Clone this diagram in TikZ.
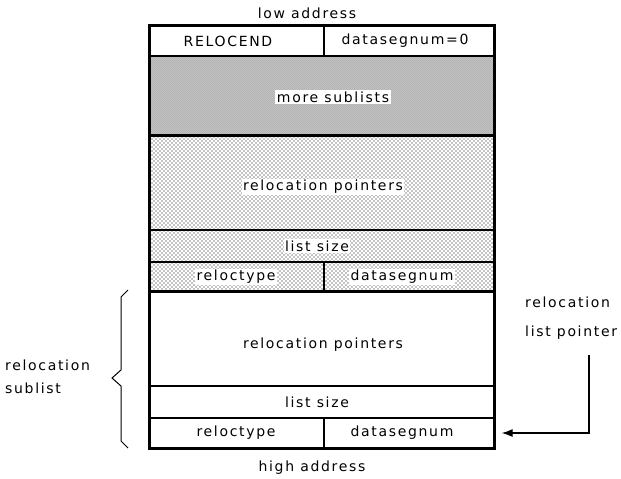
\documentclass[tikz,border=0pt]{standalone}
\usepackage{fontspec}
\setmainfont[LetterSpace=12]{DejaVu Sans}
\usetikzlibrary{patterns.meta,arrows.meta}
\tikzdeclarepattern{
  name=densedots,
  type=uncolored,
  bottom left={(-0.6pt,-0.6pt)},
  top right={(1.6pt,1.6pt)},
  tile size={(2pt,2pt)},
  code={\fill (0,0) circle (0.5pt); \fill (1pt,1pt) circle (0.5pt);}
}
\tikzdeclarepattern{
  name=sparsedots,
  type=uncolored,
  bottom left={(-0.8pt,-0.8pt)},
  top right={(2.8pt,2.8pt)},
  tile size={(4pt,4pt)},
  code={\fill (0,0) circle (0.6pt); \fill (2pt,2pt) circle (0.6pt);}
}
\begin{document}
\begin{tikzpicture}[x=1pt,y=-1pt,
  font=\fontsize{14}{16}\selectfont,
  cell/.style={draw, line width=1.3pt, inner sep=0pt, minimum height=#1},
  full/.style={cell=#1, minimum width=344pt},
  left/.style={cell=#1, minimum width=174pt},
  right/.style={cell=#1, minimum width=170pt},
  dense/.style={pattern=densedots},
  sparse/.style={pattern=sparsedots},
  lbl/.style={fill=white, inner sep=1.5pt},
  plain/.style={inner sep=1pt}]
\useasboundingbox (0,0) rectangle (621,479);
% cells
\node[left=30pt] (relocend) at (237,41) {};
\node[right=30pt] (dsn0) at (409,41) {};
\node[full=79pt, dense] (more) at (322,95.5) {};
\node[full=95pt, sparse] (rp1) at (322,182.5) {};
\node[full=32pt, sparse] (ls1) at (322,246) {};
\node[left=29pt, sparse] (rt1) at (237,276.5) {};
\node[right=29pt, sparse] (ds1) at (409,276.5) {};
\node[full=95pt] (rp2) at (322,338.5) {};
\node[full=32pt] (ls2) at (322,402) {};
\node[left=30pt] (rt2) at (237,433) {};
\node[right=30pt] (ds2) at (409,433) {};
% heavy lines
\draw[line width=2.2pt] (more.south west) -- (more.south east);
\draw[line width=2.2pt] (rt1.south west) -- (ds1.south east);
\draw[line width=2.6pt] (relocend.north west) rectangle (ds2.south east);
% texts
\node[plain] at (228,41) {RELOCEND};
\node[plain] at (405,41) {datasegnum=0};
\node[lbl] at (333,97) {more sublists};
\node[lbl] at (323,187) {relocation pointers};
\node[lbl] at (317,246) {list size};
\node[lbl] at (236,277) {reloctype};
\node[lbl] at (402,277) {datasegnum};
\node[plain] at (323,345) {relocation pointers};
\node[plain] at (317,402) {list size};
\node[plain] at (236,433) {reloctype};
\node[plain] at (402,433) {datasegnum};
\node[plain] (low) at (307,13) {low address};
\node[plain] (high) at (312,468) {high address};
\node[plain, anchor=west] (rl1) at (4,365) {relocation};
\node[plain, anchor=west] (rl2) at (4,388) {sublist};
\node[plain, anchor=west] (pl1) at (524,302) {relocation};
\node[plain, anchor=west] (pl2) at (524,333) {list pointer};
% brace
\draw[line width=1pt] (128,290) -- (121,297) -- (121,370) -- (112,378) -- (121,386) -- (121,441) -- (128,448);
% pointer arrow
\coordinate (ptr) at (589,355);
\draw[line width=1.2pt, -{Latex[length=11pt,width=8pt]}] (ptr) |- ([xshift=7pt]ds2.east);
\end{tikzpicture}
\end{document}
